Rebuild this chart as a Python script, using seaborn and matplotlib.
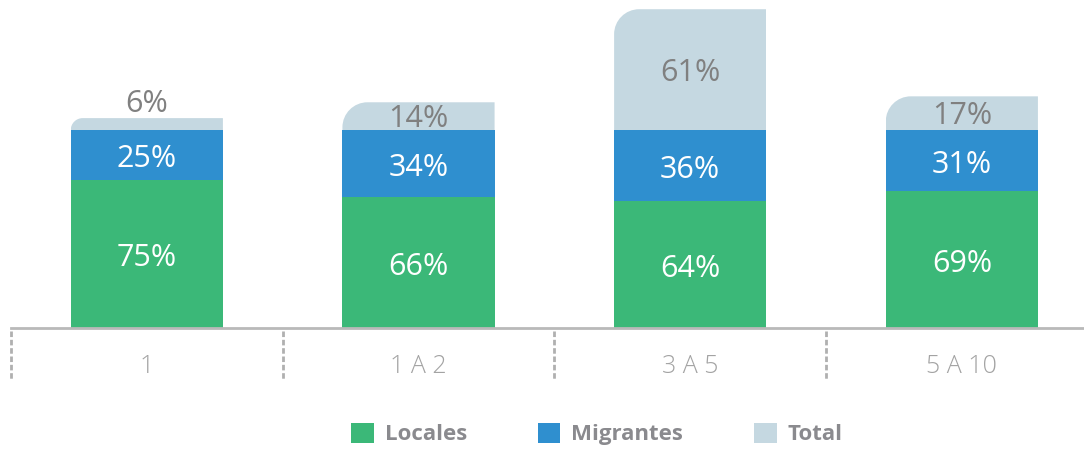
import numpy as np
import pandas as pd
import matplotlib
matplotlib.use('Agg')
import matplotlib.pyplot as plt
import seaborn as sns
from matplotlib.path import Path
from matplotlib.patches import Patch

# ---- data ----
categories = ['1', '1 A 2', '3 A 5', '5 A 10']
locales = [75, 66, 64, 69]
migrantes = [25, 34, 36, 31]
total = [6, 14, 61, 17]
series_names = ['Locales', 'Migrantes', 'Total']
colors = ['#3bb878', '#2f8fcf', '#c5d8e1']

sns.set_theme(style='white')
plt.rcParams['font.family'] = ['Open Sans', 'DejaVu Sans']

W, H = 1084, 449
fig = plt.figure(figsize=(W / 100, H / 100), dpi=100)
ax_l, ax_r = 11, 1084
base_px = 328
ax = fig.add_axes([ax_l / W, (H - base_px) / H, (ax_r - ax_l) / W, base_px / H])

px_per_x = 271.67
px_per_y = 1.98
ax.set_xlim(-0.5, -0.5 + (ax_r - ax_l) / px_per_x)
ax.set_ylim(0, base_px / px_per_y)

df = pd.DataFrame({'cat': categories, 'Locales': locales,
                   'Migrantes': migrantes, 'Total': total})
df['base_mig'] = df['Locales']
df['base_tot'] = df['Locales'] + df['Migrantes']

bw = 0.56
sns.barplot(data=df, x='cat', y='Locales', color=colors[0], width=bw,
            saturation=1, errorbar=None, ax=ax, linewidth=0)
sns.barplot(data=df, x='cat', y='Migrantes', color=colors[1], width=bw,
            saturation=1, errorbar=None, ax=ax, linewidth=0,
            bottom=df['base_mig'].values)
sns.barplot(data=df, x='cat', y='Total', color=colors[2], width=bw,
            saturation=1, errorbar=None, ax=ax, linewidth=0,
            bottom=df['base_tot'].values)
ax.set_xlim(-0.5, -0.5 + (ax_r - ax_l) / px_per_x)
ax.set_ylim(0, base_px / px_per_y)

# rounded top-left corner on the Total segments
k = 0.5523
for p in ax.patches[-len(categories):]:
    x0, y0 = p.get_x(), p.get_y()
    w, h = p.get_width(), p.get_height()
    r = min(25, h * px_per_y)
    rx, ry = r / px_per_x, r / px_per_y
    verts = [(x0, y0), (x0 + w, y0), (x0 + w, y0 + h), (x0 + rx, y0 + h),
             (x0 + rx * (1 - k), y0 + h), (x0, y0 + h - ry * (1 - k)),
             (x0, y0 + h - ry), (x0, y0)]
    codes = [Path.MOVETO, Path.LINETO, Path.LINETO, Path.LINETO,
             Path.CURVE4, Path.CURVE4, Path.CURVE4, Path.CLOSEPOLY]
    p.set_clip_path(Path(verts, codes), ax.transData)

# value labels
vfs = 22
dy = -2.3
for i in range(len(categories)):
    ax.text(i, locales[i] / 2 + dy, f'{locales[i]}%', color='white',
            ha='center', va='center', fontsize=vfs)
    ax.text(i, locales[i] + migrantes[i] / 2 + dy, f'{migrantes[i]}%',
            color='white', ha='center', va='center', fontsize=vfs)
    base = locales[i] + migrantes[i]
    if total[i] >= 10:
        ty = base + total[i] / 2
    else:
        ty = base + total[i] + 8.5
    ax.text(i, ty + dy * 0.7, f'{total[i]}%', color='#808080', ha='center',
            va='center', fontsize=vfs)

# axes styling
for s in ['top', 'right', 'left']:
    ax.spines[s].set_visible(False)
ax.spines['bottom'].set_color('#b9b9b9')
ax.spines['bottom'].set_linewidth(2)
ax.set_yticks([])
ax.set_xlabel('')
ax.set_ylabel('')
ax.set_xticks(range(len(categories)))
ax.set_xticklabels(categories, fontsize=18, color='#a3a3a3', fontweight='light')
ax.tick_params(axis='x', length=0, pad=28)
for lab in ax.get_xticklabels():
    lab.set_va('center')

# dotted separators
for xv in [-0.5, 0.5, 1.5, 2.5]:
    ax.plot([xv, xv], [-1.5, -26.5], color='#b0b0b0', lw=2,
            dashes=(2, 1), clip_on=False, solid_capstyle='butt')

handles = [Patch(facecolor=c, edgecolor='none', label=n)
           for c, n in zip(colors, series_names)]
leg = fig.legend(handles=handles, loc='center', ncol=3, frameon=False,
                 bbox_to_anchor=(597 / W, 1 - 434 / H),
                 handlelength=1.0, handleheight=1.0, handletextpad=0.5,
                 columnspacing=3.2, prop=dict(weight='bold', size=16))
for t in leg.get_texts():
    t.set_color('#8a8a8e')

fig.savefig('out.png', dpi=100)
